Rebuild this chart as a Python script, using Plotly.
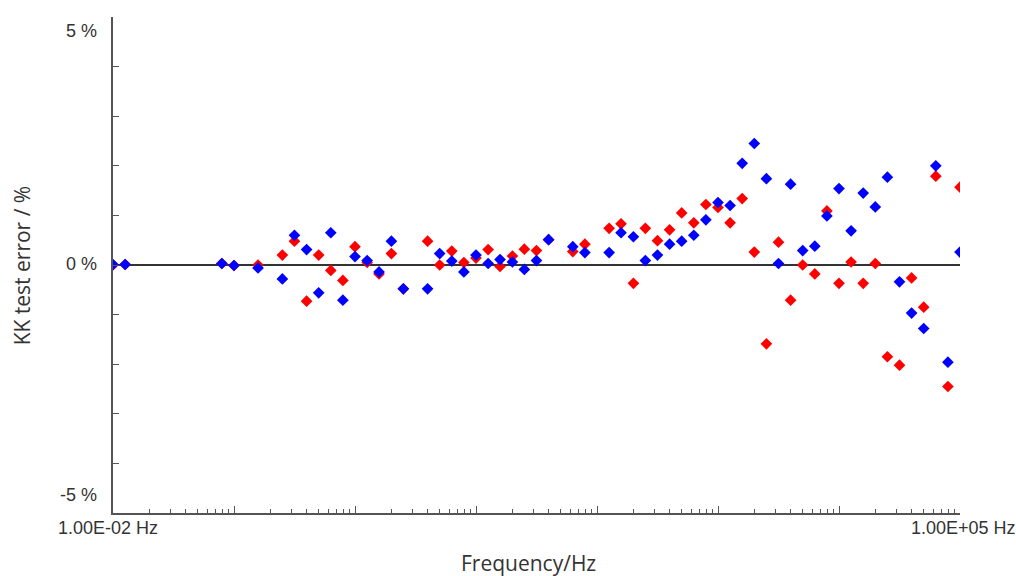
import math
import plotly.graph_objects as go

# Measurement frequencies (Hz)
freq = [0.01, 0.0126, 0.0794, 0.1, 0.158, 0.251, 0.316, 0.398, 0.501, 0.631,
        0.794, 1.0, 1.26, 1.58, 2.0, 2.51, 3.98, 5.01, 6.31, 7.94,
        10.0, 12.6, 15.8, 20.0, 25.1, 31.6, 39.8, 63.1, 79.4, 126,
        158, 200, 251, 316, 398, 501, 631, 794, 1000, 1259,
        1585, 1995, 2512, 3162, 3981, 5012, 6310, 7943, 10000, 12589,
        15849, 19953, 25119, 31623, 39811, 50119, 63096, 79433, 100000]

# Kramers-Kronig residuals (%) for the real part
err_real = [0.0, 0.01, 0.03, -0.01, 0.0, 0.20, 0.48, -0.73, 0.20, -0.11,
            -0.31, 0.37, 0.05, -0.18, 0.23, -0.48, 0.48, 0.0, 0.28, 0.05,
            0.14, 0.31, -0.03, 0.18, 0.32, 0.29, 0.51, 0.27, 0.42, 0.74,
            0.83, -0.37, 0.74, 0.49, 0.71, 1.05, 0.85, 1.22, 1.16, 0.85,
            1.34, 0.26, -1.59, 0.46, -0.71, 0.0, -0.18, 1.09, -0.37, 0.06,
            -0.37, 0.03, -1.85, -2.02, -0.26, -0.85, 1.79, -2.45, 1.57]

# Kramers-Kronig residuals (%) for the imaginary part
err_imag = [0.01, 0.01, 0.03, -0.01, -0.06, -0.28, 0.60, 0.31, -0.56, 0.65,
            -0.71, 0.17, 0.09, -0.14, 0.48, -0.48, -0.48, 0.23, 0.08, -0.14,
            0.20, 0.03, 0.11, 0.06, -0.09, 0.09, 0.51, 0.37, 0.25, 0.25,
            0.65, 0.57, 0.09, 0.20, 0.42, 0.48, 0.60, 0.91, 1.26, 1.20,
            2.05, 2.45, 1.74, 0.03, 1.63, 0.29, 0.38, 0.99, 1.54, 0.69,
            1.45, 1.17, 1.77, -0.34, -0.97, -1.28, 2.00, -1.96, 0.26]

y_tickvals = [-5, -4, -3, -2, -1, 0, 1, 2, 3, 4, 5]
# labelled y values and the label text drawn beside them
y_label_vals = [5, 0, -5]
y_label_text = ["5 %", "0 %", "-5 %"]

decades = [1e-2, 1e-1, 1e0, 1e1, 1e2, 1e3, 1e4, 1e5]
# labelled x values (ends of the frequency range)
x_label_vals = [1e-2, 1e5]
x_label_text = ["1.00E-02 Hz", "1.00E+05 Hz"]
x_minor = [m * d for d in decades[:-1] for m in range(2, 10)]

axis_color = "#555555"
label_font = dict(family="Liberation Sans Narrow, Liberation Sans, Arial", size=18, color="#333333")
title_font = dict(family="Open Sans, Noto Sans", size=21, color="#333333")

fig = go.Figure()
fig.add_trace(go.Scatter(
    x=freq, y=err_real, mode="markers", name="Re",
    marker=dict(symbol="diamond", size=9, color="#ff0000", line=dict(width=0)),
))
fig.add_trace(go.Scatter(
    x=freq, y=err_imag, mode="markers", name="Im",
    marker=dict(symbol="diamond", size=9, color="#0000ff", line=dict(width=0)),
))

# y labels: top one hangs below its tick, bottom one sits above its tick
anchors = {5: "top", 0: "middle", -5: "bottom"}
shifts = {5: -2, 0: 1, -5: 6}
annotations = [
    dict(text=t, xref="paper", yref="y", x=-0.0165, y=v, showarrow=False,
         xanchor="right", yanchor=anchors[v], yshift=shifts[v],
         font=label_font)
    for v, t in zip(y_label_vals, y_label_text)
]
# x labels below the axis, centred under their ticks
# (annotation x on a log axis is given as log10 of the value)
annotations += [
    dict(text=t, xref="x", yref="paper", x=math.log10(v), y=0,
         showarrow=False, xanchor="center", yanchor="top", yshift=-3,
         xshift=(-5 if v < 1 else 3), font=label_font)
    for v, t in zip(x_label_vals, x_label_text)
]
annotations += [
    dict(text="KK test error / %", xref="paper", yref="paper",
         x=-0.107, y=0.5, textangle=-90, showarrow=False,
         xanchor="center", yanchor="middle", font=title_font),
    dict(text="Frequency/Hz", xref="paper", yref="paper",
         x=0.491, y=-0.101, showarrow=False,
         xanchor="center", yanchor="middle", font=title_font),
]

fig.update_layout(
    width=1016, height=576,
    margin=dict(l=113, r=56, t=17, b=63),
    paper_bgcolor="white", plot_bgcolor="white",
    showlegend=False,
    xaxis=dict(
        type="log", range=[-2, 5], automargin=False,
        showgrid=False, zeroline=False,
        showline=True, linecolor=axis_color, linewidth=2,
        tickmode="array", tickvals=decades, showticklabels=False,
        ticks="inside", ticklen=7, tickcolor=axis_color, tickwidth=1,
        minor=dict(tickmode="array", tickvals=x_minor, ticks="inside",
                   ticklen=4, tickcolor=axis_color, tickwidth=1, showgrid=False),
    ),
    yaxis=dict(
        range=[-5, 5], automargin=False,
        showgrid=False,
        zeroline=True, zerolinecolor="#333333", zerolinewidth=1.5,
        showline=True, linecolor=axis_color, linewidth=2,
        tickmode="array", tickvals=y_tickvals, showticklabels=False,
        ticks="inside", ticklen=6, tickcolor=axis_color, tickwidth=1,
    ),
    annotations=annotations,
)

fig.write_html("out.html")
